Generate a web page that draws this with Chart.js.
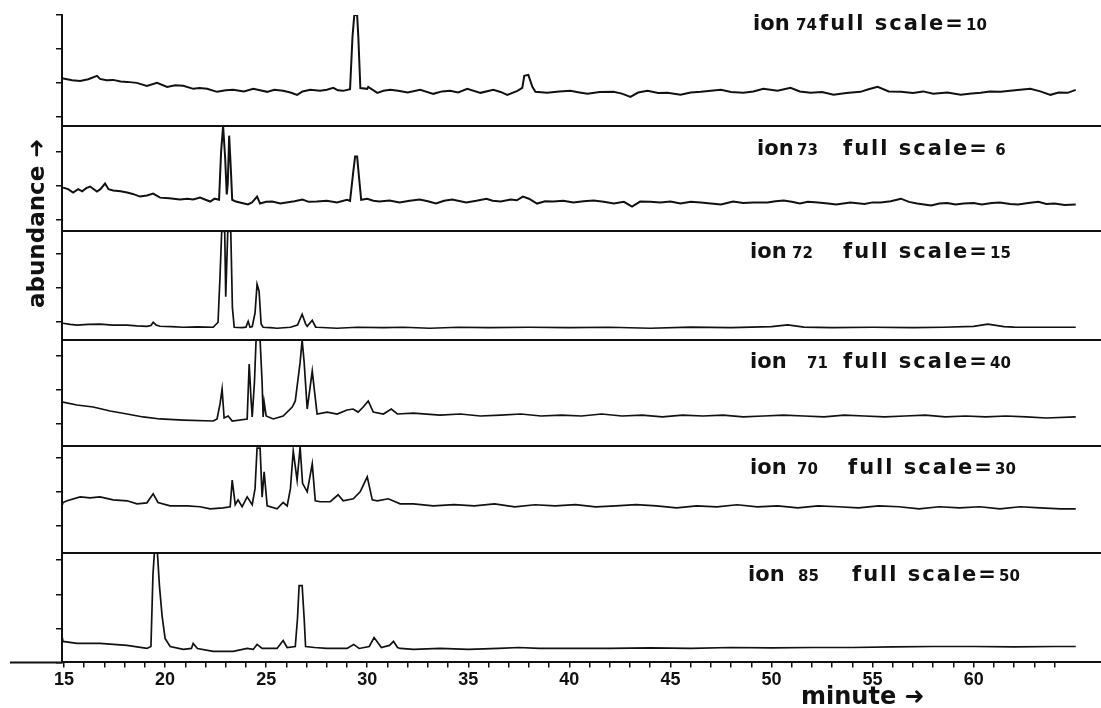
<!DOCTYPE html>
<html>
<head>
<meta charset="utf-8">
<script src="https://cdn.jsdelivr.net/npm/chart.js@4.4.1/dist/chart.umd.min.js"></script>
<style>
  html, body { margin: 0; padding: 0; background: #ffffff; }
  #wrap { width: 1101px; height: 708px; position: relative; }
</style>
</head>
<body>
<div id="wrap"><canvas id="c"></canvas></div>
<script>
// ---- data: [minute, % of full scale] ----
const ion74 = [[14.9,43],[15.4,41],[15.8,40.5],[16.2,42],[16.63,45],[16.78,42.3],[17.1,41],[17.43,41.4],[17.8,40],[18.12,39.6],[18.6,38.7],[19.1,36],[19.6,38.7],[20.1,35.1],[20.5,36.5],[20.9,36],[21.4,33.3],[21.7,34],[22.08,33.3],[22.57,30.6],[23.0,32],[23.37,32.4],[23.9,31],[24.36,33.3],[24.7,32],[25.05,30.6],[25.4,32.5],[25.84,31.5],[26.2,30],[26.53,27.9],[26.8,31],[27.18,32.4],[27.67,31.5],[28.0,32.5],[28.32,34.2],[28.55,32],[28.81,31.5],[29.15,33],[29.27,80],[29.36,100],[29.5,100],[29.56,80],[29.66,34],[30.0,33.3],[30.05,35],[30.5,29.7],[30.8,31.5],[31.14,32.4],[31.53,31.5],[32.0,30],[32.62,32.4],[33.27,28.8],[33.7,31],[34.1,31.5],[34.5,30],[34.95,33.3],[35.6,29.7],[36.24,32.4],[36.6,30.5],[36.93,27.9],[37.43,31.5],[37.67,34.2],[37.77,45],[37.97,45.9],[38.17,35.1],[38.32,30.6],[38.9,29.7],[39.5,31],[40.05,31.5],[40.5,30],[40.9,28.8],[41.5,30.5],[42.18,30.6],[42.6,29],[43.02,26.1],[43.4,30],[43.86,31.5],[44.4,29.5],[44.85,29.7],[45.5,27.9],[46.0,30],[46.5,30.6],[47.0,31.5],[47.5,32.4],[48.0,30.5],[48.6,29.7],[49.1,31],[49.6,33.3],[50.3,31.5],[50.94,34.2],[51.4,31],[51.93,29.7],[52.5,30.5],[53.07,27.9],[53.7,29.5],[54.4,30.6],[54.8,33],[55.25,35.1],[55.8,31],[56.4,30.6],[57.0,29.5],[57.5,31],[58.0,28.8],[58.7,30],[59.36,27.9],[59.9,29],[60.35,29.7],[60.8,31],[61.34,30.6],[61.8,31.5],[62.3,32.4],[62.8,33.3],[63.3,31],[63.8,27.9],[64.2,30],[64.65,29.7],[65.05,32.4]];

const ion73 = [[14.95,41.5],[15.2,40],[15.45,36.8],[15.7,40],[15.9,38],[16.1,41],[16.29,42.5],[16.63,37.7],[16.8,40],[17.03,45.3],[17.2,40],[17.43,38.7],[17.8,38],[18.12,36.8],[18.4,35.5],[18.76,33],[19.1,34],[19.41,35.8],[19.75,32],[20.2,31.5],[20.74,30.2],[21.1,31],[21.39,30.2],[21.73,32],[22.0,30],[22.23,28.3],[22.45,31],[22.62,30.2],[22.67,30],[22.77,75],[22.87,100],[22.97,70],[23.05,35],[23.1,45],[23.17,90.6],[23.25,60],[23.32,30],[23.5,28.3],[23.8,27],[24.1,25.5],[24.3,27.5],[24.55,33],[24.7,26.4],[25.0,28],[25.3,28.3],[25.7,26.5],[26.0,27.4],[26.4,28.5],[26.8,30.2],[27.1,28],[27.5,28.3],[28.0,29],[28.5,27.5],[29.0,30],[29.15,29],[29.3,55],[29.4,70.8],[29.5,70.8],[29.6,50],[29.7,30],[30.0,31],[30.3,29],[30.6,28.3],[31.1,29.2],[31.6,27.4],[32.1,29],[32.6,30.2],[33.0,28.5],[33.4,26.4],[33.8,29],[34.2,30.2],[34.9,27.4],[35.4,29],[35.9,31],[36.2,29],[36.6,28.3],[37.1,30.2],[37.4,29.5],[37.7,33],[38.0,31],[38.4,26.4],[38.8,28.5],[39.2,28.3],[39.7,29],[40.2,27.4],[40.7,28.5],[41.2,29.2],[41.7,28],[42.2,26.4],[42.7,28],[43.1,23.6],[43.5,28.3],[44.0,28],[44.5,27.4],[45.0,28.3],[45.5,26.4],[46.0,28],[46.5,27.4],[47.0,26.5],[47.5,25.5],[48.1,28.3],[48.6,27],[49.1,27.4],[49.8,27.4],[50.2,28.5],[50.6,29.2],[51.0,28],[51.4,26.4],[51.8,28],[52.3,27.4],[52.8,26.5],[53.2,25.5],[53.9,27.4],[54.6,26],[55.0,27.5],[55.4,27.4],[55.9,28.5],[56.4,31],[56.8,28],[57.2,26.4],[57.9,24.5],[58.3,26.5],[58.7,27],[59.1,25.5],[59.5,26.4],[60.0,27],[60.4,25.5],[60.9,27],[61.3,27.4],[61.8,26],[62.2,25.5],[62.7,27],[63.2,28],[63.6,26],[64.0,26.4],[64.5,25],[65.05,25.5]];

const ion72 = [[14.95,15.6],[15.3,14.5],[15.64,13.8],[16.2,14.5],[16.78,14.7],[17.4,13.8],[18.12,13.8],[18.6,13.2],[19.1,12.8],[19.3,13.5],[19.41,16.5],[19.55,14],[19.75,12.8],[20.3,12.4],[20.9,11.9],[21.6,12.2],[22.38,11.9],[22.62,16.5],[22.72,60],[22.8,100],[22.95,100],[23.0,40],[23.1,100],[23.25,100],[23.33,30],[23.42,11.9],[23.8,11.5],[24.0,12],[24.11,17.4],[24.2,11.9],[24.31,12.5],[24.45,25],[24.55,51.4],[24.65,45],[24.75,15],[24.85,11.9],[25.2,11.5],[25.54,11],[26.2,11.9],[26.55,14],[26.78,23.9],[26.95,15],[27.03,12.8],[27.28,18.3],[27.45,12],[27.52,11.9],[28.5,11],[29.5,11.9],[30.8,11.5],[31.8,11.9],[33.1,11],[34.5,11.9],[36.0,11.5],[38.0,11.9],[40.0,11.5],[42.0,11.9],[44.0,11],[46.0,12],[48.0,11.5],[50.0,12.5],[50.8,14],[51.6,12],[53.0,11.5],[55.0,11.9],[57.0,11.5],[58.5,11.9],[60.0,12.8],[60.7,14.7],[61.5,12.5],[62.0,12],[63.5,11.9],[65.05,11.9]];

const ion71 = [[14.95,41.5],[15.64,38.7],[16.44,36.8],[17.28,33],[18.12,30.2],[18.91,27.4],[19.75,25.5],[20.9,24.5],[22.38,23.6],[22.57,25.5],[22.72,40],[22.82,53.8],[22.92,26.4],[23.12,28.3],[23.32,23.6],[24.06,25.5],[24.16,77.4],[24.25,45],[24.31,27.4],[24.42,60],[24.5,100],[24.7,100],[24.8,60],[24.85,27.4],[24.9,41.5],[25.0,28.3],[25.35,25.5],[25.84,28.3],[26.29,36.8],[26.44,42.5],[26.68,79],[26.78,100],[26.88,79],[27.03,34.9],[27.28,70.8],[27.38,53.8],[27.52,30.2],[28.02,32],[28.51,30.2],[29.0,34],[29.3,34.9],[29.55,32],[29.8,36.8],[30.05,42.5],[30.3,32],[30.8,30.2],[31.19,34.9],[31.49,30.2],[32.28,31.1],[33.6,29.2],[34.6,30.2],[35.6,28.3],[36.6,29.2],[37.6,30.2],[38.6,28.3],[39.6,29.2],[40.6,28.3],[41.6,30.2],[42.6,28.3],[43.6,29.2],[44.6,27.4],[45.6,29.2],[46.6,28.3],[47.6,29.2],[48.6,27.4],[49.6,28.3],[50.6,29.2],[51.6,28.3],[52.6,27.4],[53.6,29.2],[54.6,28.3],[55.6,27.4],[56.6,28.3],[57.6,29.2],[58.6,27.4],[59.6,28.3],[60.6,27.4],[61.6,28.3],[62.6,27.4],[63.6,26.4],[65.05,27.4]];

const ion70 = [[14.9,43.9],[14.95,47],[15.15,48.6],[15.8,52.3],[16.29,51.4],[16.78,52.3],[17.43,49.5],[18.12,48.6],[18.61,45.8],[19.1,46.7],[19.41,55.1],[19.65,47],[20.25,43.9],[21.09,43.9],[21.73,43],[22.23,41.1],[22.87,42],[23.22,43],[23.32,68],[23.47,45],[23.61,49.5],[23.81,43],[24.06,52.3],[24.31,45],[24.45,60],[24.55,98],[24.7,98],[24.8,52],[24.9,75.7],[25.05,43.9],[25.54,41.1],[25.84,47],[26.04,43.9],[26.2,60],[26.34,95.3],[26.53,68],[26.68,99],[26.8,65],[27.03,57],[27.28,83.2],[27.43,48.6],[27.67,47.7],[28.17,47.7],[28.56,54.2],[28.81,48.6],[29.31,50.5],[29.65,57],[30.0,71],[30.25,49.5],[30.5,48.6],[31.04,50.5],[31.63,45.8],[32.28,45.8],[33.27,43.9],[34.3,45],[35.3,43.9],[36.3,45.8],[37.3,43],[38.3,44.9],[39.3,43.9],[40.3,45],[41.3,43],[42.3,43.9],[43.3,45],[44.3,43.9],[45.3,42],[46.3,43.9],[47.3,43],[48.3,44.9],[49.3,43],[50.3,43.9],[51.3,42],[52.3,43.9],[53.3,43],[54.3,42],[55.3,43.9],[56.3,43],[57.3,41.1],[58.3,43],[59.3,42],[60.3,43],[61.3,41.1],[62.3,43],[63.3,42],[64.3,41.1],[65.05,41.1]];

const ion85 = [[14.9,24],[14.95,19.1],[15.64,17.3],[16.78,17.3],[18.12,15.5],[19.1,12.7],[19.3,14.5],[19.4,80],[19.47,100],[19.62,100],[19.72,70],[19.85,42.7],[20.0,21.8],[20.25,14.5],[20.9,11.8],[21.3,12.7],[21.39,17.3],[21.6,12.7],[22.38,10],[23.37,10],[24.06,12.7],[24.36,11.8],[24.55,16.4],[24.8,12.7],[25.54,12.7],[25.84,20],[26.04,13.6],[26.44,14.5],[26.55,40],[26.63,70],[26.78,70],[26.88,40],[26.95,14.5],[27.4,13.6],[28.0,12.7],[29.0,12.7],[29.33,16.4],[29.6,12.7],[30.1,14.5],[30.34,22.7],[30.7,13.6],[31.1,15.5],[31.3,19.1],[31.5,13.6],[31.63,12.7],[32.3,11.8],[33.6,12.7],[35.0,11.8],[36.5,12.7],[37.5,13.6],[38.5,12.7],[40.0,12.7],[42.0,12.7],[44.0,13.2],[46.0,12.7],[48.0,13.6],[50.0,13.2],[52.0,13.6],[54.0,13.6],[56.0,14.1],[58.0,14.5],[60.0,14.5],[62.0,14.1],[64.0,14.5],[65.05,14.5]];

const ionMasses = ['74', '73', '72', '71', '70', '85'];
const fullScales = ['10', '6', '15', '40', '30', '50'];
const seriesList = [ion74, ion73, ion72, ion71, ion70, ion85];
const xTickLabels = [15, 20, 25, 30, 35, 40, 45, 50, 55, 60];
const yTitle = 'abundance \u279C';
const xTitle = 'minute \u279C';

// ---- layout / style (not data) ----
const panelWeights = [111, 106, 109, 106, 107, 110];
const lineWidths = [2, 2, 1.7, 1.7, 1.7, 1.7];
const INK = '#111111';

const scales = {
  yt: {
    type: 'linear', position: 'left', min: 0, max: 19,
    afterBuildTicks: s => { s.ticks = Array.from({length: 20}, (_, i) => ({value: i})); },
    ticks: {display: false},
    grid: {display: true, drawOnChartArea: false, drawTicks: true, tickLength: 6, color: INK, lineWidth: 1.5},
    border: {display: true, color: INK, width: 2}
  }
};
for (let i = seriesList.length - 1; i >= 0; i--) {
  scales['y' + (i + 1)] = {
    type: 'linear', position: 'left', stack: 'panels', stackWeight: panelWeights[i],
    min: 0, max: 100,
    afterBuildTicks: s => { s.ticks = [{value: 100}]; },
    ticks: {display: false},
    grid: {display: true, drawOnChartArea: true, drawTicks: false, lineWidth: 2,
           color: ctx => (i > 0 && ctx.tick && ctx.tick.value === 100) ? INK : 'rgba(0,0,0,0)'},
    border: {display: false}
  };
}
scales.x = {
  type: 'linear', position: 'bottom', min: 14.9, max: 66.3,
  afterBuildTicks: s => { s.ticks = []; for (let m = 15; m <= 64; m++) s.ticks.push({value: m}); },
  ticks: {
    autoSkip: false, maxRotation: 0, padding: 2, color: INK,
    font: {family: '"Liberation Sans", Arial, sans-serif', size: 18, weight: 'bold'},
    callback: v => xTickLabels.includes(v) ? String(v) : ''
  },
  grid: {display: true, drawOnChartArea: false, drawTicks: true, tickLength: 5, color: INK, lineWidth: 1.5},
  border: {display: true, color: INK, width: 2}
};

const datasets = seriesList.map((s, i) => ({
  label: 'ion ' + ionMasses[i],
  data: s.map(p => ({x: p[0], y: p[1]})),
  xAxisID: 'x', yAxisID: 'y' + (i + 1),
  borderColor: INK, borderWidth: lineWidths[i],
  pointRadius: 0, tension: 0, fill: false
}));

// panel label placement (annotation layout)
const labelIonX = [753, 757, 750, 750, 750, 748];
const labelNumX = [796, 797, 792, 807, 797, 798];
const labelFullX = [819, 843, 843, 843, 848, 852];
const labelDy = [15, 29, 27, 28, 28, 28];

const textPlugin = {
  id: 'texts',
  afterDraw(chart) {
    const ctx = chart.ctx;
    const area = chart.chartArea;
    ctx.save();
    // x axis line continues left of the y axis
    ctx.strokeStyle = INK;
    ctx.lineWidth = 2;
    ctx.beginPath();
    ctx.moveTo(10, area.bottom);
    ctx.lineTo(area.left, area.bottom);
    ctx.stroke();

    ctx.fillStyle = INK;
    ctx.textBaseline = 'alphabetic';
    ctx.textAlign = 'left';
    const big = 'bold 21px "DejaVu Sans", sans-serif';
    const small = 'bold 15px "DejaVu Sans", sans-serif';
    seriesList.forEach((s, i) => {
      const sc = chart.scales['y' + (i + 1)];
      const by = sc.top + labelDy[i];
      ctx.letterSpacing = '0px';
      ctx.font = big;
      ctx.fillText('ion', labelIonX[i], by);
      ctx.font = small;
      ctx.fillText(ionMasses[i], labelNumX[i], by);
      ctx.letterSpacing = '2px';
      ctx.font = big;
      ctx.fillText('full scale=', labelFullX[i], by);
      const w = ctx.measureText('full scale=').width;
      ctx.letterSpacing = '0px';
      ctx.font = small;
      ctx.fillText((fullScales[i].length === 1 ? ' ' : '') + fullScales[i], labelFullX[i] + w + 1, by);
    });
    // y title
    ctx.letterSpacing = '0px';
    ctx.font = 'bold 23px "DejaVu Sans", sans-serif';
    ctx.save();
    ctx.translate(44, 308);
    ctx.rotate(-Math.PI / 2);
    ctx.fillText(yTitle, 0, 0);
    ctx.restore();
    // x title
    ctx.font = 'bold 24px "DejaVu Sans", sans-serif';
    ctx.fillText(xTitle, 801, 704);
    ctx.restore();
  }
};

new Chart(document.getElementById('c'), {
  type: 'line',
  data: {datasets},
  options: {
    responsive: true, maintainAspectRatio: false, animation: false,
    layout: {padding: {left: 56, right: 0, top: 15, bottom: 15}},
    plugins: {legend: {display: false}, tooltip: {enabled: false}},
    scales
  },
  plugins: [textPlugin]
});
</script>
</body>
</html>
